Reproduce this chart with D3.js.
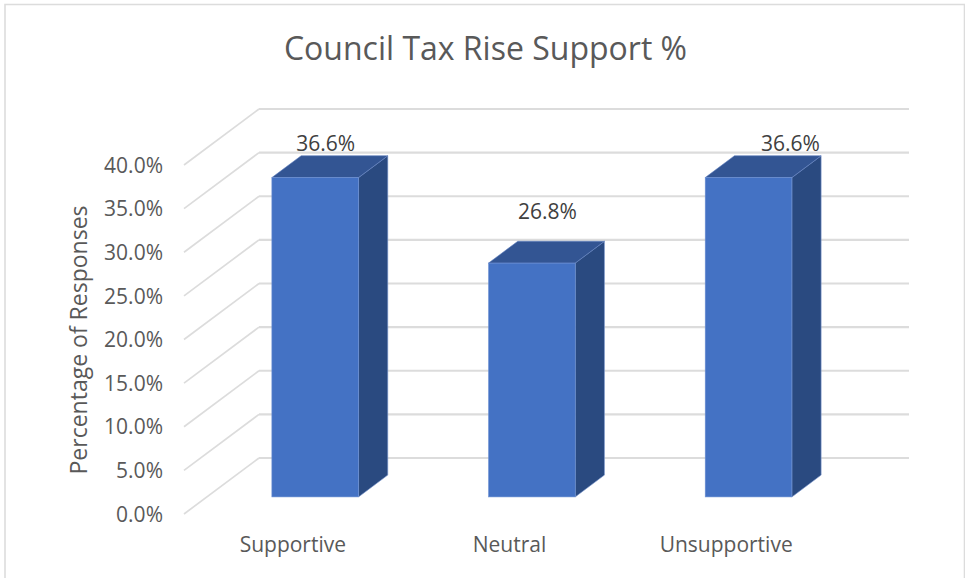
<!DOCTYPE html>
<html><head><meta charset="utf-8">
<script src="https://cdn.jsdelivr.net/npm/d3@7/dist/d3.min.js"></script>
<style>html,body{margin:0;padding:0;background:#fff}svg{display:block}text{font-family:"Open Sans",sans-serif}</style>
</head><body><svg id="c" width="965" height="578"></svg>
<script>
const categories = ["Supportive", "Neutral", "Unsupportive"];
const values = [36.6, 26.8, 36.6];
const yTicks = [0, 5, 10, 15, 20, 25, 30, 35, 40];
const titleText = "Council Tax Rise Support %";
const yAxisTitle = "Percentage of Responses";

const svg = d3.select("#c");
const x = d3.scaleBand().domain(categories).range([184, 834]);
const y = d3.scaleLinear().domain([0, 40]).range([514, 165]);
const depthX = d3.scaleLinear().domain([0, 1]).range([0, 75]);
const depthY = d3.scaleLinear().domain([0, 1]).range([0, -56]);
const barNear = 0.305, barFar = 0.695, barFrac = 0.4;
const labelShift = [[10.5, -33.5], [15.5, -51.5], [42, -33.5]];

svg.append("path").attr("d", "M5,578V4.5H964.5V578").attr("fill", "none").attr("stroke", "#dcdcdc").attr("stroke-width", 1.6);

// walls
const grid = svg.append("g").attr("fill", "none").attr("stroke", "#dcdcdc");
yTicks.forEach(t => {
  const y0 = y(t), xb = 184 + depthX(1), yb = y0 + depthY(1);
  grid.append("path").attr("d", d3.line()([[184, y0], [xb, yb]])).attr("stroke-width", 1.7);
  grid.append("path").attr("d", d3.line()([[xb, yb], [834 + depthX(1), yb]])).attr("stroke-width", 2.2);
});

// bars
const bars = svg.append("g");
categories.forEach((c, i) => {
  const w = x.bandwidth() * barFrac;
  const x0 = x(c) + (x.bandwidth() - w) / 2 + depthX(barNear);
  const x1 = x0 + w;
  const yb = y(0) + depthY(barNear);
  const yt = y(values[i]) + depthY(barNear);
  const ox = depthX(barFar - barNear), oy = depthY(barFar - barNear);
  const ln = d3.line();
  bars.append("path").attr("d", ln([[x1, yb], [x1 + ox, yb + oy], [x1 + ox, yt + oy], [x1, yt]]) + "Z")
    .attr("fill", "#2a4a80").attr("stroke", "#7f9bd0").attr("stroke-width", 0.6);
  bars.append("path").attr("d", ln([[x0, yt], [x0 + ox, yt + oy], [x1 + ox, yt + oy], [x1, yt]]) + "Z")
    .attr("fill", "#335593").attr("stroke", "#5f7fbf").attr("stroke-width", 0.6);
  bars.append("rect").attr("x", x0).attr("y", yt).attr("width", w).attr("height", yb - yt)
    .attr("fill", "#4472c4").attr("stroke", "#6d90d2").attr("stroke-width", 0.6);
  svg.append("text").attr("x", (x0 + x1) / 2 + labelShift[i][0]).attr("y", yt + labelShift[i][1])
    .attr("dy", "0.35em").attr("text-anchor", "middle").attr("font-size", 21).attr("fill", "#404040")
    .text(values[i].toFixed(1) + "%");
});

// axes
const yAxis = d3.axisLeft(y).tickValues(yTicks).tickSize(0).tickPadding(0).tickFormat(d => d.toFixed(1) + "%");
const gy = svg.append("g").attr("transform", "translate(163,0.5)").call(yAxis);
gy.select(".domain").remove();
gy.selectAll("text").attr("font-size", 21).attr("fill", "#595959").attr("font-family", '"Open Sans",sans-serif');

const xAxis = d3.axisBottom(x).tickSize(0).tickPadding(0);
const gx = svg.append("g").attr("transform", "translate(0.5,537)").call(xAxis);
gx.select(".domain").remove();
gx.selectAll("text").attr("font-size", 21).attr("fill", "#595959").attr("font-family", '"Open Sans",sans-serif');

svg.append("text").attr("x", 485.5).attr("y", 60).attr("text-anchor", "middle")
  .attr("font-size", 32).attr("fill", "#595959").text(titleText);
svg.append("text").attr("transform", "translate(79,340) rotate(-90)").attr("dy", "0.35em")
  .attr("text-anchor", "middle").attr("font-size", 23).attr("fill", "#595959").text(yAxisTitle);
</script></body></html>
